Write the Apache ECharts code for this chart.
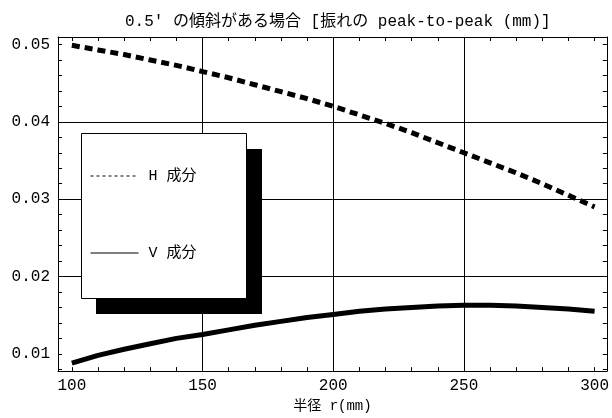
<!DOCTYPE html>
<html>
<head>
<meta charset="utf-8">
<script src="https://cdn.jsdelivr.net/npm/echarts@6/dist/echarts.min.js"></script>
<style>
html,body{margin:0;padding:0;background:#fff;}
#chart{width:612px;height:418px;}
</style>
</head>
<body>
<div id="chart"></div>
<script>
const radius = [100,110,120,130,140,150,160,170,180,190,200,210,220,230,240,250,260,270,280,290,300];
const hValues = [0.0499,0.0493,0.0487,0.0480,0.0473,0.0465,0.0457,0.0448,0.0439,0.0430,0.0420,0.0409,0.0398,0.0386,0.0373,0.0360,0.0347,0.0334,0.0320,0.0305,0.0290];
const vValues = [0.0088,0.0098,0.0106,0.0113,0.0120,0.0125,0.0131,0.0137,0.0142,0.0147,0.0151,0.0155,0.0158,0.0160,0.0162,0.0163,0.0163,0.0162,0.0160,0.0158,0.0155];
const seriesNames = ['H 成分','V 成分'];
const xGridLines = [150,200,250];
const yGridLines = [0.02,0.03,0.04];
const titleText = "0.5' の傾斜がある場合 [振れの peak-to-peak (mm)]";
const xAxisName = '半径 r(mm)';
const xRange = [94.7, 304.7];
const yRange = [0.00777, 0.05097];

const FONT = '"Liberation Mono", "Noto Sans CJK JP", monospace';
const chart = echarts.init(document.getElementById('chart'), null, {renderer:'canvas'});

function axisCommon(show) {
  return {
    axisLine:{show:true, onZero:false, lineStyle:{color:'#000', width:1}},
    axisTick:{show:true, inside:true, length:4, lineStyle:{color:'#000', width:1}},
    minorTick:{show:true, splitNumber:5, length:4, lineStyle:{color:'#000', width:1}},
    splitLine:{show:false},
    axisLabel:{show:show}
  };
}

const option = {
  animation:false,
  backgroundColor:'#fff',
  title:{
    text:titleText, left:120, top:9,
    textStyle:{fontFamily:FONT, fontSize:16, fontWeight:'normal', color:'#000'}
  },
  grid:{left:58, right:1, top:37, bottom:38},
  graphic:[
    {type:'rect', z:8, left:96, top:149, shape:{width:166, height:165}, style:{fill:'#000'}},
    {type:'rect', z:9, left:81, top:133, shape:{width:165, height:165}, style:{fill:'#fff', stroke:'#000', lineWidth:1}}
  ],
  xAxis:[
    Object.assign(axisCommon(true), {
      type:'value', position:'bottom', min:xRange[0], max:xRange[1], splitNumber:4,
      name:xAxisName, nameLocation:'middle', nameGap:22,
      nameTextStyle:{fontFamily:FONT, fontSize:14, color:'#000'},
      axisLabel:{show:true, showMinLabel:false, showMaxLabel:false, margin:7,
        fontFamily:FONT, fontSize:16, color:'#000',
        formatter:v=>String(Math.round(v))}
    }),
    Object.assign(axisCommon(false), {
      type:'value', position:'top', min:xRange[0], max:xRange[1], splitNumber:4
    })
  ],
  yAxis:[
    Object.assign(axisCommon(true), {
      type:'value', position:'left', min:yRange[0], max:yRange[1], splitNumber:4,
      axisLabel:{show:true, showMinLabel:false, showMaxLabel:false, margin:8,
        fontFamily:FONT, fontSize:16, color:'#000',
        formatter:v=>v.toFixed(2)}
    }),
    Object.assign(axisCommon(false), {
      type:'value', position:'right', min:yRange[0], max:yRange[1], splitNumber:4
    })
  ],
  legend:{
    z:20, orient:'vertical', left:81, top:133,
    padding:[35,50,37,9],
    itemWidth:48, itemHeight:16, itemGap:61,
    backgroundColor:'transparent', borderWidth:0,
    textStyle:{fontFamily:FONT, fontSize:15, color:'#000', padding:[0,0,0,5], lineHeight:16},
    data:[
      {name:seriesNames[0], itemStyle:{opacity:0}, lineStyle:{width:1, type:[3,3], color:'#000', opacity:1}},
      {name:seriesNames[1], itemStyle:{opacity:0}, lineStyle:{width:1, type:'solid', color:'#000', opacity:1}}
    ]
  },
  series:[
    {
      name:seriesNames[1], type:'line', xAxisIndex:0, yAxisIndex:0,
      data:radius.map((r,i)=>[r, vValues[i]]),
      symbol:'none', showSymbol:false,
      lineStyle:{color:'#000', width:5, type:'solid', cap:'butt'},
      itemStyle:{color:'#000'},
      markLine:{
        silent:true, symbol:'none', animation:false, z:1,
        label:{show:false},
        lineStyle:{color:'#000', width:1, type:'solid'},
        data:[].concat(xGridLines.map(v=>({xAxis:v})), yGridLines.map(v=>({yAxis:v})))
      }
    },
    {
      name:seriesNames[0], type:'line', xAxisIndex:0, yAxisIndex:0,
      data:radius.map((r,i)=>[r, hValues[i]]),
      symbol:'none', showSymbol:false,
      lineStyle:{color:'#000', width:5, type:[8,5], cap:'butt'},
      itemStyle:{color:'#000'}
    }
  ]
};
chart.setOption(option);
</script>
</body>
</html>
